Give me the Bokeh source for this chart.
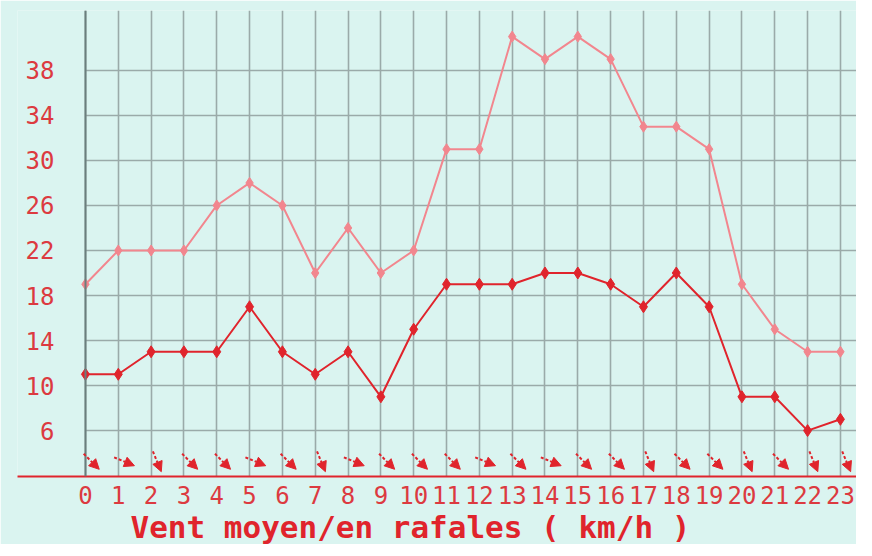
import math
from bokeh.plotting import figure
from bokeh.models import Range1d, Arrow, NormalHead, ColumnDataSource, Title, FixedTicker
from bokeh.embed import file_html
from bokeh.resources import INLINE

# ---- data ----
hours = list(range(24))
gust = [19, 22, 22, 22, 26, 28, 26, 20, 24, 20, 22, 31, 31, 41, 39, 41, 39, 33, 33, 31, 19, 15, 13, 13]
mean = [11, 11, 13, 13, 13, 17, 13, 11, 13, 9, 15, 19, 19, 19, 20, 20, 19, 17, 20, 17, 9, 9, 6, 7]
# wind direction (degrees, direction the wind comes from)
wind_from = [315, 292.5, 337.5, 315, 315, 292.5, 315, 337.5, 292.5, 315, 315, 315,
             292.5, 315, 292.5, 315, 315, 337.5, 315, 315, 337.5, 315, 337.5, 337.5]
y_ticks = [6, 10, 14, 18, 22, 26, 30, 34, 38]
title_text = "Vent moyen/en rafales ( km/h )"

# ---- style ----
BG = "#daf4f0"
GRID = "#9aaaa9"
RED = "#e0242c"
PINK = "#f2868e"
LABEL_RED = "#dc3a40"
MONO = "DejaVu Sans Mono"

W, H = 856, 544
BL, BT = 17, 10
x_start, x_end = -2.07, 23.49
y_start, y_end = 1.92, 43.32

p = figure(width=W, height=H, output_backend="svg", toolbar_location=None,
           x_range=Range1d(x_start, x_end), y_range=Range1d(y_start, y_end),
           min_border_left=BL, min_border_right=0, min_border_top=BT, min_border_bottom=0,
           background_fill_color=BG, border_fill_color=BG, outline_line_color=None)

# y axis fixed at hour 0
p.yaxis.fixed_location = 0
p.yaxis.ticker = FixedTicker(ticks=y_ticks)
p.yaxis.major_tick_line_color = None
p.yaxis.major_tick_out = 0
p.yaxis.minor_tick_line_color = None
p.yaxis.axis_line_color = "#6a7e7d"
p.yaxis.axis_line_width = 2
p.yaxis.major_label_text_color = LABEL_RED
p.yaxis.major_label_text_font = MONO
p.yaxis.major_label_text_font_size = "24px"
p.yaxis.major_label_standoff = 31

# x axis
p.xaxis.ticker = FixedTicker(ticks=hours)
p.xaxis.major_tick_line_color = None
p.xaxis.major_tick_out = 0
p.xaxis.minor_tick_line_color = None
p.xaxis.axis_line_color = RED
p.xaxis.axis_line_width = 2
p.xaxis.major_label_text_color = LABEL_RED
p.xaxis.major_label_text_font = MONO
p.xaxis.major_label_text_font_size = "24px"
p.xaxis.major_label_standoff = 9

p.xgrid.grid_line_color = GRID
p.xgrid.grid_line_width = 1.6
p.ygrid.grid_line_color = GRID
p.ygrid.grid_line_width = 1.6
try:
    p.ygrid.cross_bounds = (0, x_end)
except Exception:
    pass

# lines
p.line(hours, gust, line_color=PINK, line_width=2)
p.scatter(hours, gust, marker="diamond", size=11, fill_color=PINK, line_color=PINK)
p.line(hours, mean, line_color=RED, line_width=2)
p.scatter(hours, mean, marker="diamond", size=12, fill_color=RED, line_color=RED)

# wind direction arrows
frame_w = W - BL
frame_h = 467
px_x = frame_w / (x_end - x_start)
px_y = frame_h / (y_end - y_start)
L = 22.0
yc = y_start + 15 / px_y
xs0, ys0, xs1, ys1 = [], [], [], []
for h, d in zip(hours, wind_from):
    t = math.radians((d + 180) % 360)
    dx = L * math.sin(t) / px_x
    dy = L * math.cos(t) / px_y
    xc = h + 6 / px_x
    xs0.append(xc - dx / 2); ys0.append(yc - dy / 2)
    xs1.append(xc + dx / 2); ys1.append(yc + dy / 2)
src = ColumnDataSource(dict(x0=xs0, y0=ys0, x1=xs1, y1=ys1))
p.add_layout(Arrow(end=NormalHead(size=10, fill_color=RED, line_color=RED),
                   x_start="x0", y_start="y0", x_end="x1", y_end="y1", source=src,
                   line_color=RED, line_width=2, line_dash="3 2"))

# title below
t = Title(text=title_text, align="left", offset=113, text_color=RED,
          text_font=MONO, text_font_size="31px", text_font_style="bold", standoff=0)
p.add_layout(t, "below")

open("out.html", "w").write(file_html(p, INLINE))
